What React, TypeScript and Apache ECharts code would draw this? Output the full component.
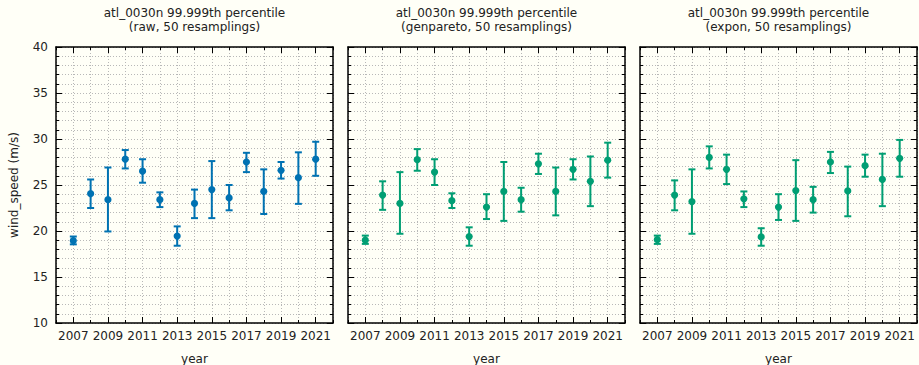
import React, { useEffect, useRef } from "react";
import * as echarts from "echarts";

const years = [2007, 2008, 2009, 2010, 2011, 2012, 2013, 2014, 2015, 2016, 2017, 2018, 2019, 2020, 2021];
const labelYears = [2007, 2009, 2011, 2013, 2015, 2017, 2019, 2021];

const rawMid = [18.95, 24.05, 23.4, 27.8, 26.5, 23.4, 19.45, 23.0, 24.5, 23.6, 27.5, 24.3, 26.6, 25.8, 27.8];
const rawLow = [18.55, 22.5, 19.95, 26.8, 25.25, 22.6, 18.4, 21.4, 21.4, 22.25, 26.4, 21.85, 25.7, 22.95, 26.0];
const rawHigh = [19.4, 25.6, 26.9, 28.8, 27.8, 24.2, 20.5, 24.5, 27.6, 25.0, 28.5, 26.7, 27.5, 28.55, 29.7];

const gpMid = [19.0, 23.9, 23.0, 27.75, 26.4, 23.3, 19.4, 22.6, 24.3, 23.4, 27.3, 24.3, 26.7, 25.4, 27.7];
const gpLow = [18.6, 22.3, 19.7, 26.55, 25.0, 22.5, 18.4, 21.3, 21.1, 22.1, 26.2, 21.7, 25.6, 22.7, 25.8];
const gpHigh = [19.5, 25.4, 26.4, 28.9, 27.8, 24.1, 20.4, 24.0, 27.5, 24.7, 28.4, 26.9, 27.8, 28.1, 29.6];

const exMid = [19.05, 23.9, 23.2, 28.0, 26.7, 23.5, 19.35, 22.6, 24.4, 23.4, 27.5, 24.35, 27.1, 25.6, 27.9];
const exLow = [18.6, 22.25, 19.7, 26.8, 25.1, 22.6, 18.4, 21.2, 21.1, 22.0, 26.3, 21.6, 25.9, 22.7, 25.9];
const exHigh = [19.5, 25.5, 26.7, 29.2, 28.3, 24.3, 20.3, 24.0, 27.7, 24.8, 28.6, 27.0, 28.3, 28.4, 29.9];

const titles = [
  "atl_0030n 99.999th percentile\n(raw, 50 resamplings)",
  "atl_0030n 99.999th percentile\n(genpareto, 50 resamplings)",
  "atl_0030n 99.999th percentile\n(expon, 50 resamplings)",
];
const colors = ["#0072b2", "#009e73", "#009e73"];
const panels = [
  { mid: rawMid, low: rawLow, high: rawHigh },
  { mid: gpMid, low: gpLow, high: gpHigh },
  { mid: exMid, low: exLow, high: exHigh },
];

const FONT = "DejaVu Sans";
const FS = 12;
const BG = "#fffff7";
const GRIDC = "#b8b8b8";

export default function App() {
  const ref = useRef<HTMLDivElement>(null);
  useEffect(() => {
    if (!ref.current) return;
    const chart = echarts.init(ref.current, undefined, { renderer: "svg" });
    const lefts = [56, 348, 640];
    const W = 277;
    const top = 47;
    const H = 276;
    const grids: any[] = [];
    const xAxes: any[] = [];
    const yAxes: any[] = [];
    const series: any[] = [];
    const graphics: any[] = [];
    const dotted = { color: GRIDC, width: 1, type: [1, 2] };
    lefts.forEach((left, i) => {
      grids.push({ left, top, width: W, height: H, containLabel: false, outerBoundsMode: "none" });
      const baseX = {
        type: "value",
        gridIndex: i,
        min: 2006,
        max: 2022,
        interval: 1,
        axisLine: { show: true, onZero: false, lineStyle: { color: "#000", width: 1.5 } },
        axisTick: { show: true, inside: true, length: 3, lineStyle: { color: "#000", width: 1 } },
        axisLabel: { show: false },
        splitLine: { show: false },
      };
      xAxes.push({ ...baseX, position: "bottom", splitLine: { show: true, lineStyle: dotted } });
      xAxes.push({
        ...baseX,
        position: "bottom",
        axisLine: { show: false, onZero: false },
        axisTick: { show: true, inside: true, length: 6, customValues: labelYears, lineStyle: { color: "#000", width: 1 } },
        axisLabel: {
          show: true,
          customValues: labelYears,
          formatter: (v: number) => (v % 2 === 1 ? String(v) : ""),
          color: "#222",
          fontFamily: FONT,
          fontSize: FS,
          margin: 7,
        },
        name: "year",
        nameLocation: "middle",
        nameGap: 30,
        nameTextStyle: { color: "#222", fontFamily: FONT, fontSize: FS },
      });
      xAxes.push({ ...baseX, position: "top" });
      xAxes.push({
        ...baseX,
        position: "top",
        axisLine: { show: false, onZero: false },
        axisTick: { show: true, inside: true, length: 6, customValues: labelYears, lineStyle: { color: "#000", width: 1 } },
      });
      const baseY = {
        type: "value",
        gridIndex: i,
        min: 10,
        max: 40,
        interval: 5,
        axisLine: { show: true, onZero: false, lineStyle: { color: "#000", width: 1.5 } },
        axisTick: { show: true, inside: true, length: 6, lineStyle: { color: "#000", width: 1 } },
        minorTick: { show: true, splitNumber: 5, length: 3, lineStyle: { color: "#000", width: 1 } },
        axisLabel: { show: false },
        splitLine: { show: false },
      };
      yAxes.push({
        ...baseY,
        position: "left",
        splitLine: { show: true, lineStyle: dotted },
        minorSplitLine: { show: true, lineStyle: dotted },
        axisLabel: { show: i === 0, color: "#222", fontFamily: FONT, fontSize: FS, margin: 8 },
        name: i === 0 ? "wind_speed (m/s)" : "",
        nameLocation: "middle",
        nameGap: 36,
        nameTextStyle: { color: "#222", fontFamily: FONT, fontSize: FS },
      });
      yAxes.push({ ...baseY, position: "right" });

      const p = panels[i];
      const data = years.map((y, k) => [y, p.low[k], p.high[k], p.mid[k]]);
      const color = colors[i];
      series.push({
        type: "custom",
        xAxisIndex: i * 4,
        yAxisIndex: i * 2,
        data,
        renderItem: (params: any, api: any) => {
          const x = api.value(0);
          const lo = api.coord([x, api.value(1)]);
          const hi = api.coord([x, api.value(2)]);
          const md = api.coord([x, api.value(3)]);
          const cw = 3.5;
          const ls = { stroke: color, lineWidth: 2 };
          return {
            type: "group",
            children: [
              { type: "line", shape: { x1: lo[0], y1: lo[1], x2: hi[0], y2: hi[1] }, style: ls },
              { type: "line", shape: { x1: lo[0] - cw, y1: lo[1], x2: lo[0] + cw, y2: lo[1] }, style: ls },
              { type: "line", shape: { x1: hi[0] - cw, y1: hi[1], x2: hi[0] + cw, y2: hi[1] }, style: ls },
              { type: "circle", shape: { cx: md[0], cy: md[1], r: 3.6 }, style: { fill: color } },
            ],
          };
        },
      });
      graphics.push({
        type: "text",
        x: left + W / 2,
        y: 6,
        style: {
          text: titles[i],
          fill: "#222",
          font: `${FS}px "${FONT}"`,
          textAlign: "center",
          textVerticalAlign: "top",
          lineHeight: 14,
        },
      });
    });
    chart.setOption({
      animation: false,
      backgroundColor: BG,
      grid: grids,
      xAxis: xAxes,
      yAxis: yAxes,
      series,
      graphic: graphics,
    });
    return () => chart.dispose();
  }, []);
  return (
    <div
      ref={ref}
      style={{ position: "fixed", left: 0, top: 0, width: 919, height: 365, background: BG }}
    />
  );
}
